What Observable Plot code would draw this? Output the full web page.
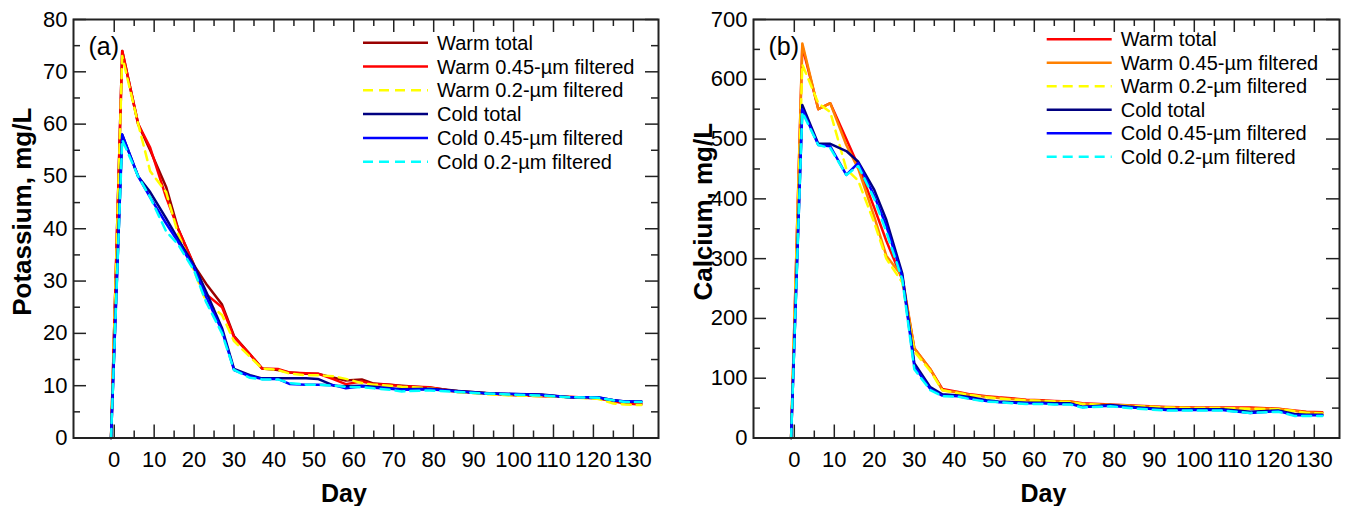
<!DOCTYPE html>
<html><head><meta charset="utf-8">
<script src="https://cdn.jsdelivr.net/npm/d3@7"></script>
<script src="https://cdn.jsdelivr.net/npm/@observablehq/plot@0.6"></script>
<style>
body{margin:0;background:#fff;font-family:"Liberation Sans",Arial,sans-serif;}
#wrap{display:flex;width:1348px;height:506px;}
</style></head><body><div id="wrap"></div>
<script>
// ---- data ----
const days = [-0.8, 2, 6, 9, 13, 16, 20, 23, 27, 30, 34, 37, 41, 44, 48, 51, 55, 58, 62, 65, 69, 72, 79, 86, 93, 100, 107, 114, 121, 125, 128, 132];

const seriesNames = ["Warm total", "Warm 0.45-\u00b5m filtered", "Warm 0.2-\u00b5m filtered", "Cold total", "Cold 0.45-\u00b5m filtered", "Cold 0.2-\u00b5m filtered"];
const dashed = [false, false, true, false, false, true];

// Potassium, mg/L
const kWarmTotal = [0, 74, 60, 55, 48, 40, 33, 29.5, 25.5, 19.5, 16, 13.3, 13, 12.5, 12.3, 12.3, 11.5, 11, 11.2, 10.4, 10.2, 10, 9.6, 9, 8.6, 8.2, 8.2, 7.8, 7.6, 7.2, 6.8, 6.6];
const kWarm045   = [0, 74, 60, 55.5, 46, 40, 33, 27.5, 25, 19.3, 16, 13.3, 13.2, 12.5, 12.4, 12.3, 11.2, 10.3, 10.8, 10.3, 10.2, 9.9, 9.7, 8.8, 8.5, 8.2, 8, 7.9, 7.6, 7, 6.6, 6.4];
const kWarm02    = [0, 73, 60, 51, 47, 39, 32, 26, 23.5, 18.5, 15.5, 13.3, 13, 12.3, 12, 12, 11.8, 11.3, 10.5, 10.2, 10, 9.8, 9.5, 8.8, 8.4, 8.1, 8, 7.8, 7.5, 6.6, 6.4, 6.3];
const kColdTotal = [0, 58, 50, 47, 42, 38, 33, 28, 21, 13.2, 12, 11.4, 11.4, 11.4, 11.4, 11.3, 10, 9.9, 10, 9.8, 9.5, 9.3, 9.4, 9, 8.6, 8.4, 8.3, 7.8, 7.8, 7.2, 7, 7];
const kCold045   = [0, 58, 50, 46, 41, 37.5, 32.5, 27, 20.5, 13, 11.8, 11.3, 11.3, 10.3, 10.2, 10.2, 10.1, 9.5, 9.9, 9.6, 9.4, 9.2, 9.3, 8.9, 8.5, 8.4, 8.2, 7.8, 7.8, 7.2, 7, 7];
const kCold02    = [0, 57, 50, 46, 39.5, 37, 32, 26, 20, 13, 11.5, 11.2, 11.2, 10.5, 10.2, 10.2, 10, 9.8, 9.7, 9.5, 9.2, 8.9, 9.1, 8.8, 8.5, 8.3, 8.1, 7.8, 7.7, 7.2, 6.9, 6.9];

// Calcium, mg/L
const caWarmTotal = [0, 655, 550, 560, 500, 455, 385, 330, 265, 150, 115, 82, 77, 73, 70, 68, 66, 64, 63, 62, 61, 58, 56, 54, 52, 51, 51, 51, 49, 46, 44, 43];
const caWarm045   = [0, 660, 550, 560, 490, 450, 370, 305, 270, 150, 115, 80, 76, 72, 69, 67, 65, 63, 62, 61, 61, 57, 55, 53, 51, 50, 50, 49, 49, 45, 43, 42];
const caWarm02    = [0, 625, 560, 545, 450, 430, 360, 300, 260, 145, 112, 80, 75, 72, 68, 66, 64, 63, 62, 61, 60, 57, 55, 53, 51, 50, 50, 49, 48, 45, 42, 41];
const caColdTotal = [0, 557, 492, 492, 480, 462, 415, 365, 275, 125, 85, 73, 71, 68, 63, 61, 60, 59, 59, 58, 58, 52, 55, 51, 48, 48, 48, 44, 46, 40, 39, 39];
const caCold045   = [0, 550, 490, 488, 440, 460, 405, 355, 270, 120, 82, 71, 70, 66, 62, 60, 59, 58, 58, 57, 57, 52, 54, 50, 47, 47, 47, 42, 45, 38, 38, 38];
const caCold02    = [0, 545, 490, 485, 440, 455, 400, 345, 265, 115, 80, 70, 69, 65, 61, 60, 58, 57, 57, 56, 56, 51, 53, 49, 46, 46, 46, 42, 44, 37, 37, 37];

const kColors  = ["#990000", "#ff0000", "#ffff00", "#000080", "#0000ff", "#00ffff"];
const caColors = ["#ff0000", "#ff8000", "#ffff00", "#000080", "#0000ff", "#00ffff"];

const xMajor = [0, 10, 20, 30, 40, 50, 60, 70, 80, 90, 100, 110, 120, 130];
const xMinor = [5, 15, 25, 35, 45, 55, 65, 75, 85, 95, 105, 115, 125];
const kYMajor = [0, 10, 20, 30, 40, 50, 60, 70, 80];
const kYMinor = [5, 15, 25, 35, 45, 55, 65, 75];
const caYMajor = [0, 100, 200, 300, 400, 500, 600, 700];
const caYMinor = [50, 150, 250, 350, 450, 550, 650];

// ---- drawing ----
const FONT = "'Liberation Sans', Arial, sans-serif";
function panel(o) {
  const H = 506, mT = 19, mB = 68.5;
  const plotH = H - mT - mB, plotW = o.width - o.mL - o.mR;
  const rows = [];
  o.values.forEach((arr, i) => arr.forEach((v, j) => rows.push({s: i, day: days[j], value: v})));
  const lines = o.values.map((arr, i) => Plot.line(rows.filter(r => r.s === i), {
    x: "day", y: "value", stroke: o.colors[i], strokeWidth: 2.5,
    ...(dashed[i] ? {strokeDasharray: "9,6"} : {})
  }));
  const tk = {stroke: "#222", strokeWidth: 1.5};
  const svg = Plot.plot({
    width: o.width, height: H,
    marginLeft: o.mL, marginRight: o.mR, marginTop: mT, marginBottom: mB,
    style: {fontFamily: FONT, fontSize: "22px", color: "#000", background: "#fff"},
    x: {domain: [-10.2, 136.3]},
    y: {domain: [0, o.yMax]},
    marks: [
      ...lines,
      Plot.tickX(xMajor, {x: d => d, insetTop: plotH - 13, ...tk}),
      Plot.tickX(xMinor, {x: d => d, insetTop: plotH - 7, ...tk}),
      Plot.tickX(xMajor, {x: d => d, insetBottom: plotH - 13, ...tk}),
      Plot.tickX(xMinor, {x: d => d, insetBottom: plotH - 7, ...tk}),
      Plot.tickY(o.yMajor, {y: d => d, insetRight: plotW - 13, ...tk}),
      Plot.tickY(o.yMinor, {y: d => d, insetRight: plotW - 7, ...tk}),
      Plot.tickY(o.yMajor, {y: d => d, insetLeft: plotW - 13, ...tk}),
      Plot.tickY(o.yMinor, {y: d => d, insetLeft: plotW - 7, ...tk}),
      Plot.frame({stroke: "#222", strokeWidth: 2}),
      Plot.axisX(xMajor, {tickSize: 0, tickPadding: 13, label: null, fontSize: 22}),
      Plot.axisY(o.yMajor, {tickSize: 0, tickPadding: 6, label: null, fontSize: 22}),
      Plot.text(["Day"], {frameAnchor: "bottom", dx: o.dayDx, dy: 55.5, lineAnchor: "middle", textAnchor: "middle", fontSize: 25, fontWeight: "bold"}),
      Plot.text([o.yLabel], {frameAnchor: "left", dx: o.yLabelDx, dy: -17, rotate: -90, textAnchor: "middle", lineAnchor: "middle", fontSize: 26, fontWeight: "bold"}),
      Plot.text([o.tag], {frameAnchor: "top-left", dx: 15, dy: 27, textAnchor: "start", lineAnchor: "middle", fontSize: 25})
    ]
  });
  // legend inside the frame, top right
  const g = d3.select(svg).append("g").attr("font-family", FONT).attr("font-size", 20).attr("text-anchor", "start");
  seriesNames.forEach((name, i) => {
    const y = o.lg.y0 + i * o.lg.step;
    g.append("line").attr("x1", o.lg.x1).attr("x2", o.lg.x1 + 65).attr("y1", y).attr("y2", y)
      .attr("stroke", o.colors[i]).attr("stroke-width", 2.5)
      .attr("stroke-dasharray", dashed[i] ? "10,6" : null);
    g.append("text").attr("x", o.lg.x1 + 74).attr("y", y).attr("dy", "0.35em")
      .attr("text-anchor", "start").attr("fill", "#000").text(name);
  });
  return svg;
}

const wrap = document.getElementById("wrap");
wrap.appendChild(panel({
  width: 674, mL: 73, mR: 16,
  values: [kWarmTotal, kWarm045, kWarm02, kColdTotal, kCold045, kCold02],
  colors: kColors, yMax: 80, yMajor: kYMajor, yMinor: kYMinor,
  yLabel: "Potassium, mg/L", yLabelDx: -51, dayDx: -22, tag: "(a)",
  lg: {x1: 363, y0: 42.7, step: 23.8}
}));
wrap.appendChild(panel({
  width: 674, mL: 79, mR: 9,
  values: [caWarmTotal, caWarm045, caWarm02, caColdTotal, caCold045, caCold02],
  colors: caColors, yMax: 700, yMajor: caYMajor, yMinor: caYMinor,
  yLabel: "Calcium, mg/L", yLabelDx: -50, dayDx: -3, tag: "(b)",
  lg: {x1: 372.7, y0: 39.3, step: 23.5}
}));
</script></body></html>
